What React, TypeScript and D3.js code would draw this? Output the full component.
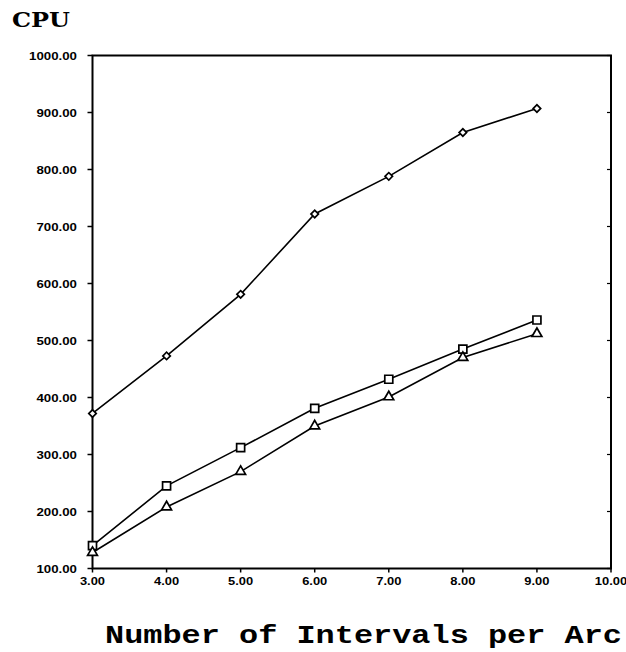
import React, { useEffect, useRef } from 'react';
import * as d3 from 'd3';

// x values (number of intervals per arc)
const intervals = [3, 4, 5, 6, 7, 8, 9];
// CPU series
const diamondCpu = [372, 473, 581, 722, 788, 865, 907];
const squareCpu = [140, 245, 312, 381, 432, 485, 536];
const triangleCpu = [128, 208, 270, 350, 401, 470, 512];

const xTicks = [3, 4, 5, 6, 7, 8, 9, 10];
const yTicks = [100, 200, 300, 400, 500, 600, 700, 800, 900, 1000];

const W = 626, H = 652;
const pad = { left: 92.5, right: 15, top: 55.5, bottom: 83.5 };

export default function App() {
    const ref = useRef<SVGSVGElement>(null);

    useEffect(() => {
        const svg = d3.select(ref.current);
        svg.selectAll('*').remove();

        const x = d3.scaleLinear().domain([3, 10]).range([pad.left, W - pad.right]);
        const y = d3.scaleLinear().domain([100, 1000]).range([H - pad.bottom, pad.top]);

        const labelFont = '"Liberation Sans", Arial, sans-serif';

        // frame
        svg.append('rect')
            .attr('x', x(3)).attr('y', y(1000))
            .attr('width', x(10) - x(3)).attr('height', y(100) - y(1000))
            .attr('fill', 'none').attr('stroke', '#000').attr('stroke-width', 2);

        // left axis ticks + labels
        const yAxis = svg.append('g');
        yTicks.forEach(t => {
            yAxis.append('line')
                .attr('x1', x(3) - 5).attr('x2', x(3))
                .attr('y1', y(t)).attr('y2', y(t))
                .attr('stroke', '#000').attr('stroke-width', 1.5);
            // inward ticks on the right edge
            yAxis.append('line')
                .attr('x1', x(10) - 4).attr('x2', x(10))
                .attr('y1', y(t)).attr('y2', y(t))
                .attr('stroke', '#000').attr('stroke-width', 1.2);
            const s = t.toFixed(2);
            yAxis.append('text')
                .attr('x', 77).attr('y', y(t) + 4)
                .attr('text-anchor', 'end')
                .attr('font-family', labelFont)
                .attr('font-weight', 'bold')
                .attr('font-size', 11)
                .attr('textLength', (s.length - 1) * 7.4 + 3.5)
                .attr('lengthAdjust', 'spacingAndGlyphs')
                .text(s);
        });

        // bottom axis ticks + labels
        const xAxis = svg.append('g');
        xTicks.forEach(t => {
            xAxis.append('line')
                .attr('x1', x(t)).attr('x2', x(t))
                .attr('y1', y(100)).attr('y2', y(100) + 4)
                .attr('stroke', '#000').attr('stroke-width', 1.5);
            const s = t.toFixed(2);
            xAxis.append('text')
                .attr('x', x(t)).attr('y', y(100) + 16)
                .attr('text-anchor', 'middle')
                .attr('font-family', labelFont)
                .attr('font-weight', 'bold')
                .attr('font-size', 11)
                .attr('textLength', (s.length - 1) * 7.2 + 3.5)
                .attr('lengthAdjust', 'spacingAndGlyphs')
                .text(s);
        });

        const line = d3.line<number>()
            .x((d, i) => x(intervals[i]))
            .y(d => y(d));

        // diamonds are drawn as squares turned 45 degrees
        const series = [
            { data: diamondCpu, symbol: d3.symbolSquare, size: 28, rot: 45 },
            { data: squareCpu, symbol: d3.symbolSquare, size: 64, rot: 0 },
            { data: triangleCpu, symbol: d3.symbolTriangle, size: 42, rot: 0 },
        ];

        series.forEach(s => {
            svg.append('path')
                .attr('d', line(s.data))
                .attr('fill', 'none')
                .attr('stroke', '#000')
                .attr('stroke-width', 1.6);

            svg.append('g')
                .selectAll('path')
                .data(s.data)
                .enter()
                    .append('path')
                    .attr('d', d3.symbol().type(s.symbol).size(s.size)())
                    .attr('transform', (d, i) => 'translate(' + x(intervals[i]) + ',' + y(d) + ') rotate(' + s.rot + ')')
                    .attr('fill', '#fff')
                    .attr('stroke', '#000')
                    .attr('stroke-width', 1.7);
        });

        // titles
        svg.append('text')
            .attr('x', 12).attr('y', 27)
            .attr('font-family', '"DejaVu Serif", serif')
            .attr('font-weight', 'bold')
            .attr('font-size', 21)
            .attr('textLength', 58)
            .attr('lengthAdjust', 'spacingAndGlyphs')
            .text('CPU');

        svg.append('text')
            .attr('x', 105).attr('y', 643)
            .attr('font-family', '"Liberation Mono", "Courier New", monospace')
            .attr('font-weight', 'bold')
            .attr('font-size', 26)
            .attr('textLength', 517)
            .attr('lengthAdjust', 'spacingAndGlyphs')
            .text('Number of Intervals per Arc');
    }, []);

    return (
        <svg ref={ref} width={W} height={H}
            style={{ position: 'absolute', left: 0, top: 0, background: '#fff' }} />
    );
}
